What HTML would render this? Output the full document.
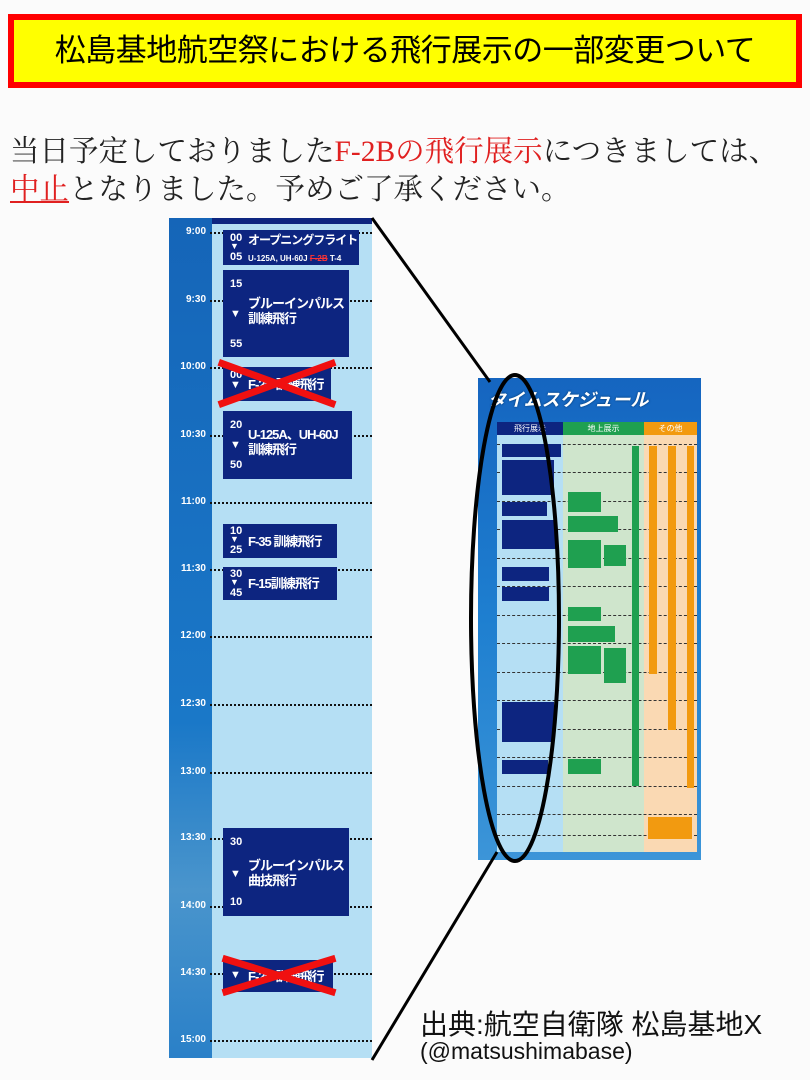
<!DOCTYPE html>
<html><head><meta charset="utf-8"><style>
body{margin:0;width:810px;height:1080px;background:#fbfbfb;position:relative;overflow:hidden;font-family:"Liberation Sans","Noto Sans CJK JP",sans-serif}
.a{position:absolute}
.title{left:8px;top:14px;width:782px;height:62px;border:6px solid #f00;background:#ff0;text-align:center;font-size:31px;line-height:62px;color:#000;font-family:"Liberation Sans","Noto Sans CJK JP",sans-serif;letter-spacing:-0.5px}
.body{left:10px;font-family:"Liberation Serif","Noto Serif CJK SC",serif;font-size:29.5px;color:#222;white-space:nowrap}
.red{color:#e02020}
.tl{left:170px;width:36px;color:#fff;font-size:10px;font-weight:bold;text-align:right}
.dot{left:210px;width:162px;height:0;border-top:2px dotted #111}
.box{background:#0d2580;color:#fff;font-weight:bold;font-family:"Liberation Sans","Noto Sans CJK JP",sans-serif;white-space:nowrap;overflow:hidden}
.n{font-size:11px;position:absolute;left:7px}
.t{position:absolute;left:25px;font-size:13px;line-height:15px;letter-spacing:-1px}
.x{position:absolute;height:7px;background:#f01010;}
.sb{position:absolute;background:#0d2580}
.sg{position:absolute;background:#1fa050}
.so{position:absolute;background:#f29a10}
.sl{position:absolute;left:497px;width:200px;height:0;border-top:1px dashed #333}
</style></head><body>
<div class="a title">松島基地航空祭における飛行展示の一部変更ついて</div>
<div class="a body" style="top:128px">当日予定しておりました<span class="red">F-2Bの飛行展示</span>につきましては、</div>
<div class="a body" style="top:166px"><span class="red" style="text-decoration:underline">中止</span>となりました。予めご了承ください。</div>

<div class="a" style="left:169px;top:218px;width:203px;height:840px;background:#b5dff4"></div>
<div class="a" style="left:169px;top:218px;width:43px;height:840px;background:linear-gradient(#1565b8,#1a78c8 60%,#4a95cc 80%,#2a80c8)"></div>
<div class="a" style="left:212px;top:218px;width:160px;height:6px;background:#0d2580"></div>

<div class="a tl" style="top:226px">9:00</div><div class="a dot" style="top:232px"></div>
<div class="a tl" style="top:294px">9:30</div><div class="a dot" style="top:300px"></div>
<div class="a tl" style="top:361px">10:00</div><div class="a dot" style="top:367px"></div>
<div class="a tl" style="top:429px">10:30</div><div class="a dot" style="top:435px"></div>
<div class="a tl" style="top:496px">11:00</div><div class="a dot" style="top:502px"></div>
<div class="a tl" style="top:563px">11:30</div><div class="a dot" style="top:569px"></div>
<div class="a tl" style="top:630px">12:00</div><div class="a dot" style="top:636px"></div>
<div class="a tl" style="top:698px">12:30</div><div class="a dot" style="top:704px"></div>
<div class="a tl" style="top:766px">13:00</div><div class="a dot" style="top:772px"></div>
<div class="a tl" style="top:832px">13:30</div><div class="a dot" style="top:838px"></div>
<div class="a tl" style="top:900px">14:00</div><div class="a dot" style="top:906px"></div>
<div class="a tl" style="top:967px">14:30</div><div class="a dot" style="top:973px"></div>
<div class="a tl" style="top:1034px">15:00</div><div class="a dot" style="top:1040px"></div>

<div class="a box" style="left:223px;top:230px;width:136px;height:35px">
 <span class="n" style="top:2px">00</span><span class="n" style="top:11px;font-size:9px">▼</span><span class="n" style="top:21px">05</span>
 <span class="t" style="top:3px;font-size:12px">オープニングフライト</span><span class="t" style="top:21px;font-size:8px;letter-spacing:0">U-125A, UH-60J <s style="color:#f33">F-2B</s> T-4</span></div>
<div class="a box" style="left:223px;top:270px;width:126px;height:87px">
 <span class="n" style="top:8px">15</span><span class="n" style="top:38px">▼</span><span class="n" style="top:68px">55</span>
 <span class="t" style="top:26px">ブルーインパルス<br>訓練飛行</span></div>
<div class="a box" style="left:223px;top:367px;width:108px;height:34px">
 <span class="n" style="top:2px">00</span><span class="n" style="top:12px">▼</span><span class="t" style="top:10px">F-2B 訓練飛行</span></div>
<div class="a" style="left:218px;top:380px;width:118px;height:0"><div class="x" style="width:124px;left:-3px;transform:rotate(-20deg)"></div><div class="x" style="width:124px;left:-3px;transform:rotate(20deg)"></div></div>
<div class="a box" style="left:223px;top:411px;width:129px;height:68px">
 <span class="n" style="top:8px">20</span><span class="n" style="top:28px">▼</span><span class="n" style="top:48px">50</span>
 <span class="t" style="top:16px">U-125A、UH-60J<br>訓練飛行</span></div>
<div class="a box" style="left:223px;top:524px;width:114px;height:34px">
 <span class="n" style="top:1px">10</span><span class="n" style="top:10px;font-size:9px">▼</span><span class="n" style="top:20px">25</span><span class="t" style="top:10px">F-35 訓練飛行</span></div>
<div class="a box" style="left:223px;top:567px;width:114px;height:33px">
 <span class="n" style="top:1px">30</span><span class="n" style="top:10px;font-size:9px">▼</span><span class="n" style="top:20px">45</span><span class="t" style="top:9px">F-15訓練飛行</span></div>
<div class="a box" style="left:223px;top:828px;width:126px;height:88px">
 <span class="n" style="top:8px">30</span><span class="n" style="top:40px">▼</span><span class="n" style="top:68px">10</span>
 <span class="t" style="top:30px">ブルーインパルス<br>曲技飛行</span></div>
<div class="a box" style="left:223px;top:960px;width:110px;height:32px">
 <span class="n" style="top:9px">▼</span><span class="t" style="top:9px">F-2B 訓練飛行</span></div>
<div class="a" style="left:220px;top:972px;width:118px;height:0"><div class="x" style="width:118px;transform:rotate(-17deg)"></div><div class="x" style="width:118px;transform:rotate(17deg)"></div></div>

<div class="a" style="left:478px;top:378px;width:223px;height:482px;background:linear-gradient(#1565c0,#1e7fd0 50%,#3c95d8)"></div>
<div class="a" style="left:488px;top:386px;color:#fff;font-weight:bold;font-size:18px;font-style:italic;text-shadow:0 0 2px #036">タイムスケジュール</div>
<div class="sb" style="left:497px;top:422px;width:66px;height:13px;color:#fff;font-size:8px;text-align:center;line-height:13px">飛行展示</div>
<div class="sg" style="left:563px;top:422px;width:81px;height:13px;color:#fff;font-size:8px;text-align:center;line-height:13px">地上展示</div>
<div class="so" style="left:644px;top:422px;width:53px;height:13px;color:#fff;font-size:8px;text-align:center;line-height:13px">その他</div>
<div class="a" style="left:497px;top:435px;width:66px;height:417px;background:#b5dff4"></div>
<div class="a" style="left:563px;top:435px;width:81px;height:417px;background:#cfe5cc"></div>
<div class="a" style="left:644px;top:435px;width:53px;height:417px;background:#fad9b3"></div>
<div class="sl" style="top:444px"></div><div class="sl" style="top:472px"></div><div class="sl" style="top:501px"></div><div class="sl" style="top:529px"></div><div class="sl" style="top:558px"></div><div class="sl" style="top:586px"></div><div class="sl" style="top:615px"></div><div class="sl" style="top:643px"></div><div class="sl" style="top:672px"></div><div class="sl" style="top:700px"></div><div class="sl" style="top:729px"></div><div class="sl" style="top:757px"></div><div class="sl" style="top:786px"></div><div class="sl" style="top:814px"></div><div class="sl" style="top:835px"></div>
<div class="sb" style="left:502px;top:444px;width:59px;height:13px"></div>
<div class="sb" style="left:502px;top:460px;width:52px;height:35px"></div>
<div class="sb" style="left:502px;top:502px;width:45px;height:14px"></div>
<div class="sb" style="left:502px;top:520px;width:54px;height:29px"></div>
<div class="sb" style="left:502px;top:567px;width:47px;height:14px"></div>
<div class="sb" style="left:502px;top:587px;width:47px;height:14px"></div>
<div class="sb" style="left:502px;top:702px;width:52px;height:40px"></div>
<div class="sb" style="left:502px;top:760px;width:46px;height:14px"></div>
<div class="sg" style="left:568px;top:492px;width:33px;height:20px"></div>
<div class="sg" style="left:568px;top:516px;width:50px;height:16px"></div>
<div class="sg" style="left:568px;top:540px;width:33px;height:28px"></div>
<div class="sg" style="left:604px;top:545px;width:22px;height:21px"></div>
<div class="sg" style="left:568px;top:607px;width:33px;height:14px"></div>
<div class="sg" style="left:568px;top:626px;width:47px;height:16px"></div>
<div class="sg" style="left:568px;top:646px;width:33px;height:28px"></div>
<div class="sg" style="left:604px;top:648px;width:22px;height:20px"></div>
<div class="sg" style="left:604px;top:668px;width:22px;height:15px"></div>
<div class="sg" style="left:568px;top:759px;width:33px;height:15px"></div>
<div class="sg" style="left:632px;top:446px;width:7px;height:340px"></div>
<div class="so" style="left:649px;top:446px;width:8px;height:228px"></div>
<div class="so" style="left:668px;top:446px;width:8px;height:284px"></div>
<div class="so" style="left:687px;top:446px;width:7px;height:342px"></div>
<div class="so" style="left:648px;top:817px;width:44px;height:22px"></div>

<svg class="a" style="left:0;top:0" width="810" height="1080">
<ellipse cx="515" cy="618" rx="44" ry="243" fill="none" stroke="#000" stroke-width="4"/>
<line x1="372" y1="218" x2="490" y2="382" stroke="#000" stroke-width="3"/>
<line x1="372" y1="1060" x2="497" y2="852" stroke="#000" stroke-width="3"/>
</svg>

<div class="a" style="left:420px;top:1003px;font-size:28px;color:#111;white-space:nowrap">出典:航空自衛隊 松島基地X</div>
<div class="a" style="left:420px;top:1038px;font-size:23px;color:#111;white-space:nowrap">(@matsushimabase)</div>
</body></html>
